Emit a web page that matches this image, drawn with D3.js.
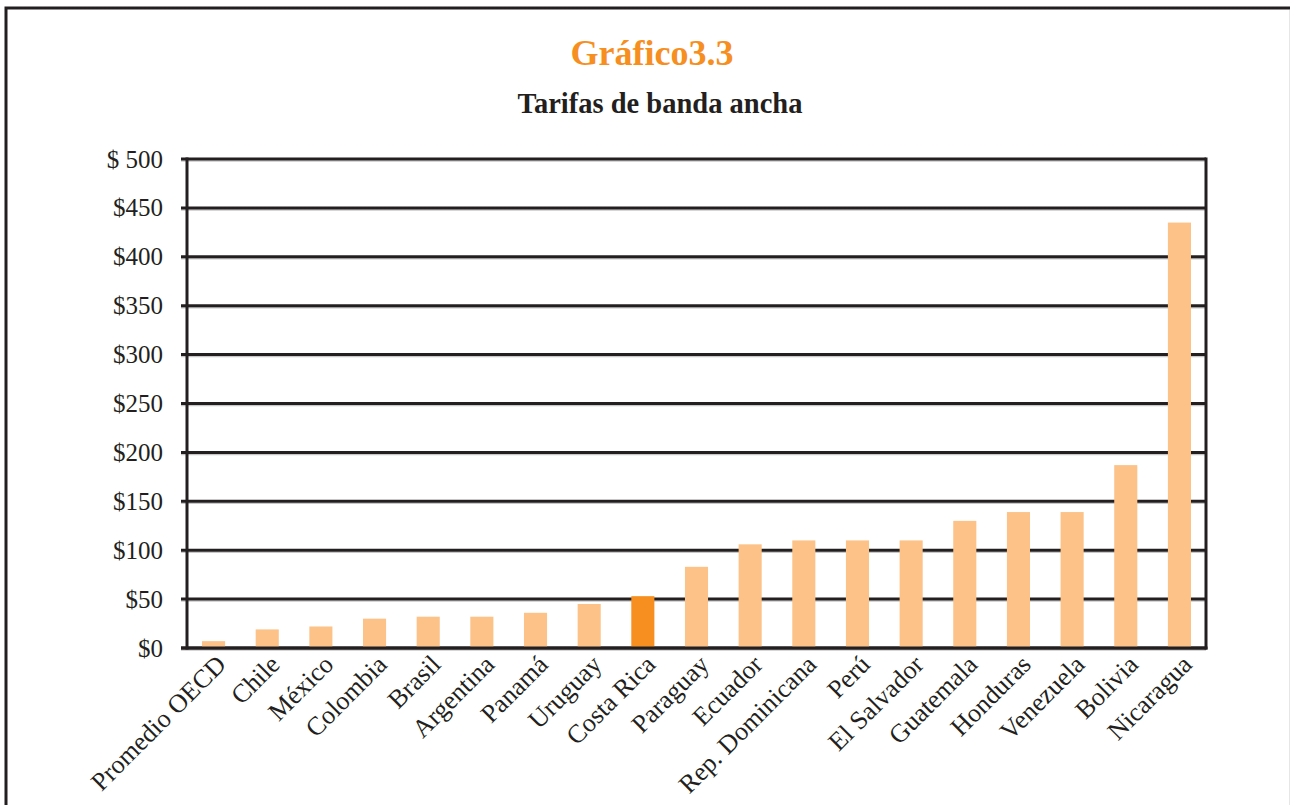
<!DOCTYPE html>
<html>
<head>
<meta charset="utf-8">
<script src="https://cdn.jsdelivr.net/npm/d3@7"></script>
<style>
  html, body { margin: 0; padding: 0; background: #fff; }
  svg { display: block; }
</style>
</head>
<body>
<svg id="chart" width="1290" height="805"></svg>
<script>
// Monthly broadband tariffs (US$) by country
const categories = ["Promedio OECD", "Chile", "México", "Colombia", "Brasil", "Argentina",
  "Panamá", "Uruguay", "Costa Rica", "Paraguay", "Ecuador", "Rep. Dominicana", "Perú",
  "El Salvador", "Guatemala", "Honduras", "Venezuela", "Bolivia", "Nicaragua"];
const values = [7, 19, 22, 30, 32, 32, 36, 45, 53, 83, 106, 110, 110, 110, 130, 139, 139, 187, 435];
const highlight = "Costa Rica";
const yTicks = [0, 50, 100, 150, 200, 250, 300, 350, 400, 450, 500];
const yTickLabels = ["$0", "$50", "$100", "$150", "$200", "$250", "$300", "$350", "$400", "$450", "$ 500"];

const svg = d3.select("#chart");
const serif = "'Liberation Serif', 'DejaVu Serif', serif";
const ink = "#231f20";

// outer frame
svg.append("path")
  .attr("d", "M6,805 V8 H1290")
  .attr("fill", "none").attr("stroke", ink).attr("stroke-width", 3);
svg.append("line")
  .attr("x1", 1289.5).attr("x2", 1289.5).attr("y1", 10).attr("y2", 805)
  .attr("stroke", "#e6e6e6").attr("stroke-width", 1);

// titles
svg.append("text").attr("x", 652).attr("y", 65).attr("text-anchor", "middle")
  .attr("font-family", serif).attr("font-weight", "bold").attr("font-size", 36)
  .attr("fill", "#f68f1f").text("Gráfico3.3");
svg.append("text").attr("x", 660).attr("y", 113).attr("text-anchor", "middle")
  .attr("font-family", serif).attr("font-weight", "bold").attr("font-size", 28.5)
  .attr("fill", ink).text("Tarifas de banda ancha");

const plotLeft = 187, plotRight = 1206, plotTop = 159, plotBottom = 648;

const x = d3.scaleBand().domain(categories).range([plotLeft, plotRight]).paddingInner(0.57).paddingOuter(0.28);
const y = d3.scaleLinear().domain([0, 500]).range([plotBottom, plotTop]);

// gridlines with a faint shadow underneath
const grid = svg.append("g");
grid.selectAll("line.shadow").data(yTicks).join("line").attr("class", "shadow")
  .attr("x1", 181).attr("x2", plotRight).attr("y1", d => y(d) + 2).attr("y2", d => y(d) + 2)
  .attr("stroke", "#c8c8c8").attr("stroke-width", 1.5);
grid.selectAll("line.main").data(yTicks).join("line").attr("class", "main")
  .attr("x1", 181).attr("x2", plotRight).attr("y1", d => y(d)).attr("y2", d => y(d))
  .attr("stroke", ink).attr("stroke-width", 3);

// bars
svg.append("g").selectAll("rect").data(categories).join("rect")
  .attr("x", d => x(d))
  .attr("width", x.bandwidth())
  .attr("y", (d, i) => y(values[i]))
  .attr("height", (d, i) => y(0) - y(values[i]))
  .attr("fill", d => d === highlight ? "#f68f1f" : "#fcc287");

// baseline redrawn over bars
svg.append("line").attr("x1", 181).attr("x2", plotRight + 1.5).attr("y1", plotBottom).attr("y2", plotBottom)
  .attr("stroke", ink).attr("stroke-width", 3);
// plot sides
svg.append("line").attr("x1", plotLeft).attr("x2", plotLeft).attr("y1", plotTop - 1.5).attr("y2", plotBottom + 1.5)
  .attr("stroke", ink).attr("stroke-width", 3);
svg.append("line").attr("x1", plotRight).attr("x2", plotRight).attr("y1", plotTop - 1.5).attr("y2", plotBottom + 1.5)
  .attr("stroke", ink).attr("stroke-width", 3);

// y axis labels
const yAxis = d3.axisLeft(y).tickValues(yTicks).tickSize(0).tickPadding(18)
  .tickFormat((d, i) => yTickLabels[i]);
const gy = svg.append("g").attr("transform", `translate(${181},0)`).call(yAxis);
gy.select(".domain").remove();
gy.selectAll("text").attr("font-family", serif).attr("font-size", 25).attr("fill", ink);

// x axis labels, rotated
const xAxis = d3.axisBottom(x).tickSize(0).tickPadding(0);
const gx = svg.append("g").attr("transform", `translate(0,${plotBottom})`).call(xAxis);
gx.select(".domain").remove();
gx.selectAll("text")
  .attr("font-family", serif).attr("font-size", 26).attr("fill", ink)
  .attr("text-anchor", "end").attr("dy", null)
  .attr("transform", "translate(14,18) rotate(-45)");
</script>
</body>
</html>
